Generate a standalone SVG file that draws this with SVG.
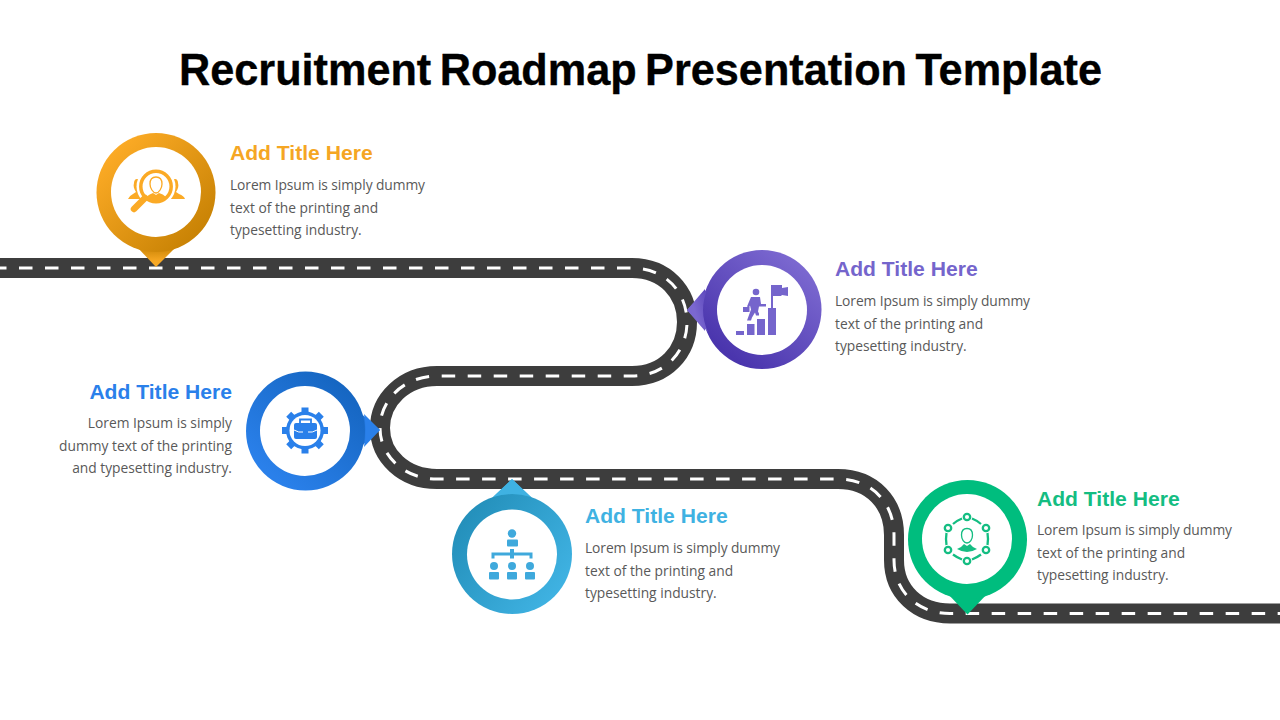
<svg xmlns="http://www.w3.org/2000/svg" width="1280" height="720" viewBox="0 0 1280 720">
<style>
.title{font:700 43.6px "Liberation Sans",Arial,sans-serif;fill:#000;stroke:#000;stroke-width:.35;word-spacing:-3.6px}
.h{font:700 21.1px "Liberation Sans",Arial,sans-serif}
.b{font:400 13.8px "Open Sans",sans-serif;fill:#595959}
.road{fill:none;stroke:#3d3d3d;stroke-width:20}
.dash{fill:none;stroke:#fff;stroke-width:3;stroke-dasharray:13.5 12.5;stroke-dashoffset:-24}
.w{fill:#fff}
</style>
<defs>
<linearGradient id="go" x1="0.15" y1="0.15" x2="0.85" y2="0.85"><stop offset="0" stop-color="#fbaa25"/><stop offset="1" stop-color="#c98305"/></linearGradient>
<linearGradient id="gp" x1="0.85" y1="0.15" x2="0.25" y2="0.9"><stop offset="0" stop-color="#7b68d0"/><stop offset="1" stop-color="#4a35ad"/></linearGradient>
<linearGradient id="gb" x1="0.85" y1="0.1" x2="0.2" y2="0.85"><stop offset="0" stop-color="#1565c0"/><stop offset="1" stop-color="#2a80ea"/></linearGradient>
<linearGradient id="gt" x1="0.1" y1="0.2" x2="0.9" y2="0.8"><stop offset="0" stop-color="#2490bb"/><stop offset="1" stop-color="#3fb2e2"/></linearGradient>
<linearGradient id="to" x1="0" y1="0" x2="0" y2="1"><stop offset="0.1" stop-color="#d18a0a"/><stop offset="0.7" stop-color="#f7a823"/></linearGradient>
<linearGradient id="tp" x1="1" y1="0" x2="0" y2="0.6"><stop offset="0" stop-color="#5a45bb"/><stop offset="0.7" stop-color="#7b68d0"/></linearGradient>
<linearGradient id="tb" x1="0" y1="0" x2="1" y2="0"><stop offset="0" stop-color="#1565c0"/><stop offset="0.5" stop-color="#2a80ea"/></linearGradient>
<linearGradient id="tt" x1="0" y1="1" x2="0" y2="0"><stop offset="0" stop-color="#2c9cc8"/><stop offset="0.6" stop-color="#3fb2e2"/></linearGradient>
</defs>
<rect width="1280" height="720" fill="#fff"/>
<text class="title" x="640.5" y="85" text-anchor="middle" textLength="923" lengthAdjust="spacingAndGlyphs">Recruitment Roadmap Presentation Template</text>
<g id="connectors">
<path id="road" class="road" d="M-5 268H632C665 268 687 292 687 322S665 376 632 376H437C404 376 380 400 380 428S404 479 437 479H838C872 479 894 503 894 535V560C894 592 918 613.500 950 613.500H1285"/>
<path class="dash" d="M-5 268H632C665 268 687 292 687 322S665 376 632 376H437C404 376 380 400 380 428S404 479 437 479H838C872 479 894 503 894 535V560C894 592 918 613.500 950 613.500H1285"/>
</g>
<g id="node-1">
<path d="M137 247L156 267L176 247Z" fill="url(#to)"/>
<circle cx="156" cy="192.500" r="59.500" fill="url(#go)"/>
<circle class="w" cx="156" cy="192" r="45"/>
<g fill="#fbaa25">
<path d="M137 179c4 0 6 4 6 9 0 3-1 5-2 6l1 5h-14q1-3 5-5l3-2c-2-3-3-6-2-9 0-2 1-4 3-4z"/>
<path d="M175 179c-4 0-6 4-6 9 0 3 1 5 2 6l-1 5h15q-1-3-6-5l-3-2c2-3 3-6 2-9 0-2-1-4-3-4z"/>
<circle cx="156" cy="186.500" r="19.500" class="w"/>
<circle cx="156" cy="186.500" r="15.200" fill="#fff" stroke="#fbaa25" stroke-width="3.500"/>
<path d="M145 198L134 209" stroke="#fbaa25" stroke-width="6.500" stroke-linecap="round" fill="none"/>
<path d="M156 177c4 0 6 3 6 7s-3 9-6 9-6-5-6-9 2-7 6-7z" fill="none" stroke="#fbaa25" stroke-width="1.300"/>
<path d="M146 197q4-3 7-4l3 2 3-2q4 1 7 4-4 3.500-10 3.500t-10-3.500z"/>
</g>
<text class="h" x="230" y="160" fill="#f5a623">Add Title Here</text>
<text class="b" x="230" y="190" textLength="195">Lorem Ipsum is simply dummy</text>
<text class="b" x="230" y="213">text of the printing and</text>
<text class="b" x="230" y="235">typesetting industry.</text>
</g>
<g id="node-2">
<path d="M687 310L705 289V331Z" fill="url(#tp)"/>
<circle cx="762" cy="309.500" r="59.500" fill="url(#gp)"/>
<path d="M687 310L708 288Q698 310 708 332Z" fill="url(#tp)"/>
<circle class="w" cx="762" cy="310" r="45"/>
<g fill="#7565cc">
<rect x="736" y="331" width="8" height="4"/><rect x="747" y="324" width="7.500" height="11"/><rect x="757" y="319" width="8" height="16"/><rect x="768" y="308" width="8" height="27"/>
<rect x="771" y="285" width="2" height="23"/><path d="M772 285h10v3l6-1v9l-6-1-1 1h-9z"/>
<circle cx="756" cy="292" r="3.300"/>
<path d="M751 297h9l1 7h5v2.500h-7l-1 5 1 2v2h-3l-1-3-3 5-1 3h-4l4-11-1-4-1 2-2-1z"/>
<rect x="743" y="307" width="6.500" height="5"/>
</g>
<text class="h" x="835" y="276" fill="#7565cc">Add Title Here</text>
<text class="b" x="835" y="306" textLength="195">Lorem Ipsum is simply dummy</text>
<text class="b" x="835" y="329">text of the printing and</text>
<text class="b" x="835" y="351">typesetting industry.</text>
</g>
<g id="node-3">
<path d="M380 430L358 411V449Z" fill="url(#tb)"/>
<circle cx="305.500" cy="431" r="59.500" fill="url(#gb)"/>
<path d="M380 430L364 414Q367 430 364 447Z" fill="#2a80ea"/>
<circle class="w" cx="305" cy="431" r="45"/>
<g fill="#2a80ea">
<g stroke="#2a80ea" stroke-width="7"><path d="M305 407.500v46M282 430.500h46M288.700 414.200l32.600 32.600M321.300 414.200l-32.600 32.600"/></g>
<circle cx="305" cy="430.500" r="19"/>
<circle cx="305" cy="430.500" r="15.500" fill="#fff"/>
<rect x="294" y="423" width="23" height="16" rx="2"/>
<path d="M300 423v-3.500h11v3.500" fill="none" stroke="#2a80ea" stroke-width="1.800"/>
<path d="M294 430q5 3 9 2M317 430q-5 3-9 2" fill="none" stroke="#fff" stroke-width="1"/>
</g>
<text class="h" x="232" y="399" text-anchor="end" fill="#2a80ea">Add Title Here</text>
<text class="b" x="232" y="428" text-anchor="end">Lorem Ipsum is simply</text>
<text class="b" x="232" y="451" text-anchor="end">dummy text of the printing</text>
<text class="b" x="232" y="473" text-anchor="end">and typesetting industry.</text>
</g>
<g id="node-4">
<path d="M512 479L532 498H492Z" fill="url(#tt)"/>
<circle cx="512" cy="554" r="60" fill="url(#gt)"/>
<path d="M512 479L531 497Q512 491 493 497Z" fill="#3fb2e2"/>
<circle class="w" cx="512" cy="554.500" r="45"/>
<g fill="#3fa9dc">
<circle cx="512" cy="533.500" r="4.200"/><rect x="507" y="539.500" width="11" height="7" rx="1"/>
<path d="M510 549h4v3.500h18.500v6h-3v-3h-15.500v3h-4v-3h-15.500v3h-3v-6h18.500z"/>
<circle cx="494" cy="566" r="4"/><circle cx="512" cy="566" r="4"/><circle cx="530" cy="566" r="4"/>
<rect x="489" y="572" width="10" height="7.500" rx="1"/><rect x="507" y="572" width="10" height="7.500" rx="1"/><rect x="525" y="572" width="10" height="7.500" rx="1"/>
</g>
<text class="h" x="585" y="523" fill="#3fb2e2">Add Title Here</text>
<text class="b" x="585" y="553" textLength="195">Lorem Ipsum is simply dummy</text>
<text class="b" x="585" y="576">text of the printing and</text>
<text class="b" x="585" y="598">typesetting industry.</text>
</g>
<g id="node-5">
<path d="M967.500 614.500L947 593H988Z" fill="#00bd7e"/>
<circle cx="967.500" cy="539.500" r="59.500" fill="#00bd7e"/>
<circle class="w" cx="967" cy="539" r="45"/>
<g fill="#fff" stroke="#14bd82" stroke-width="2.300">
<circle cx="967" cy="517" r="3.200"/><circle cx="986" cy="528" r="3.200"/><circle cx="986" cy="550" r="3.200"/><circle cx="967" cy="561" r="3.200"/><circle cx="948" cy="550" r="3.200"/><circle cx="948" cy="528" r="3.200"/>
<path fill="none" d="M972 518.500q5 2 9 5.500M987.500 533q1 6 0 12M981 554.500q-4 3-9 5M962 559.500q-5-2-9-5M946.500 545q-1-6 0-12M953 524q4-3.500 9-5.500"/>
<path fill="none" stroke-width="1.300" d="M967 528.500c3.500 0 5.500 2 5.500 6.500s-2.500 8-5.500 8-5.500-3.500-5.500-8 2-6.500 5.500-6.500z"/>
</g>
<path d="M957 549q5-2 7-5l3 2 3-2q2 3 7 5-10 6-20 0z" fill="#14bd82"/>
<text class="h" x="1037" y="506" fill="#14bd82">Add Title Here</text>
<text class="b" x="1037" y="535" textLength="195">Lorem Ipsum is simply dummy</text>
<text class="b" x="1037" y="558">text of the printing and</text>
<text class="b" x="1037" y="580">typesetting industry.</text>
</g>
</svg>
